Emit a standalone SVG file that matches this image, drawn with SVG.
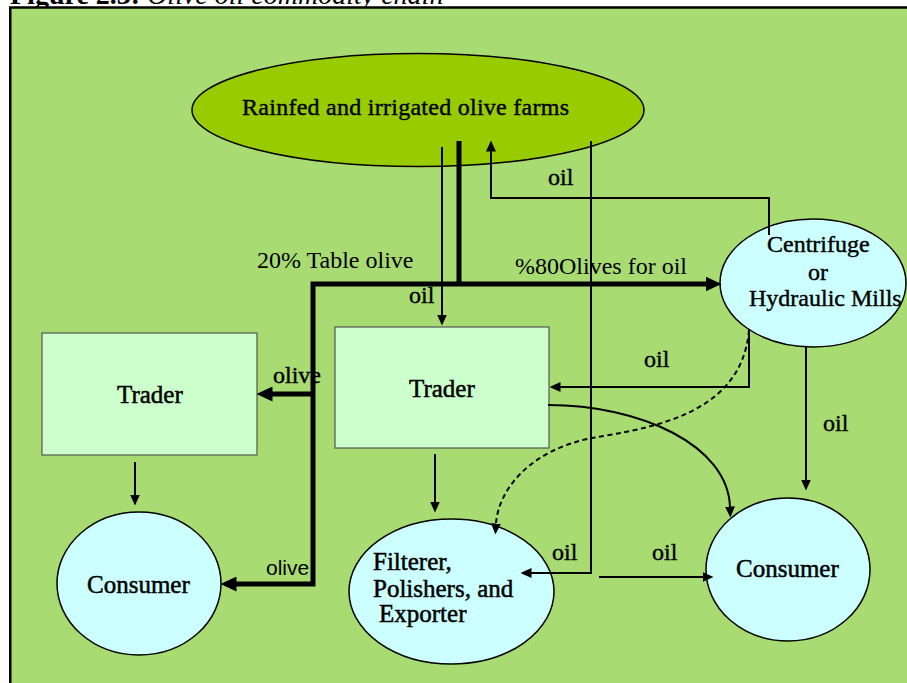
<svg xmlns="http://www.w3.org/2000/svg" width="907" height="683" viewBox="0 0 907 683">
<style>
.t{font-family:"Liberation Serif","Times New Roman",serif;font-size:24px;fill:#000}
.n{font-size:25px;stroke:#000;stroke-width:0.5}
.h{stroke:#000;stroke-width:0.4}
.s{font-family:"Liberation Sans",Arial,sans-serif;font-size:21px;fill:#000}
.thin{fill:none;stroke:#000;stroke-width:2}
.thick{fill:none;stroke:#000;stroke-width:5;stroke-linejoin:miter}
.dash{fill:none;stroke:#000;stroke-width:2;stroke-dasharray:5 3.5}
.ell{fill:#CCFFFF;stroke:#000;stroke-width:1.5}
.box{fill:#CCFFCC;stroke:#555;stroke-width:1.2}
</style>
<defs>
<marker id="a" markerUnits="userSpaceOnUse" markerWidth="11" markerHeight="10" viewBox="0 0 11 10" refX="0.5" refY="5" orient="auto"><path d="M0,0 L11,5 L0,10 z" fill="#000"/></marker>
<marker id="A" markerUnits="userSpaceOnUse" markerWidth="16" markerHeight="15" viewBox="0 0 16 15" refX="0.5" refY="7.5" orient="auto"><path d="M0,0 L16,7.5 L0,15 z" fill="#000"/></marker>
</defs>
<text x="10" y="4" font-family="Liberation Serif, Times New Roman, serif" font-size="28" fill="#000"><tspan font-weight="bold">Figure 2.3:</tspan><tspan font-style="italic"> Olive oil commodity chain</tspan></text>
<rect x="10.25" y="7.5" width="910" height="690" fill="#A8DC72" stroke="#000" stroke-width="2.5"/>

<g id="farms">
<ellipse cx="418" cy="110" rx="226" ry="56.5" fill="#99CC00" stroke="#000" stroke-width="1.5"/>
<text class="t h" x="242" y="115" textLength="327">Rainfed and irrigated olive farms</text>
</g>
<g id="mills">
<ellipse class="ell" cx="813" cy="283" rx="93" ry="64"/>
<text class="t h" x="767" y="252">Centrifuge</text>
<text class="t h" x="808" y="280">or</text>
<text class="t h" x="749" y="306">Hydraulic Mills</text>
</g>
<g id="trader-left">
<rect class="box" x="42" y="333" width="215" height="122"/>
<text class="t n" x="117" y="403">Trader</text>
</g>
<g id="trader-mid">
<rect class="box" x="335" y="327" width="214" height="121"/>
<text class="t n" x="409" y="397">Trader</text>
</g>
<g id="consumer-left">
<ellipse class="ell" cx="139" cy="583.5" rx="82" ry="71.5"/>
<text class="t n" x="87" y="593">Consumer</text>
</g>
<g id="filterer">
<ellipse class="ell" cx="451.5" cy="591.5" rx="102.5" ry="72.5"/>
<text class="t n" x="373" y="570">Filterer,</text>
<text class="t n" x="373" y="597">Polishers, and</text>
<text class="t n" x="379" y="622">Exporter</text>
</g>
<g id="consumer-right">
<ellipse class="ell" cx="788" cy="569.5" rx="82" ry="71.5"/>
<text class="t n" x="736" y="577">Consumer</text>
</g>

<g id="connectors">
<path class="thick" d="M459,141 V284"/>
<path class="thick" d="M705,284 H313 V584 H236" marker-end="url(#A)"/>
<path class="thick" d="M705,284 H706" marker-end="url(#A)"/>
<path class="thick" d="M313,394 H272" marker-end="url(#A)"/>
<path class="thin" d="M442,147 V315" marker-end="url(#a)"/>
<path class="thin" d="M769,235 V198 H491 V151" marker-end="url(#a)"/>
<path class="thin" d="M591,141 V573 H531" marker-end="url(#a)"/>
<path class="thin" d="M599,577 H703" marker-end="url(#a)"/>
<path class="thin" d="M749,329 V387 H560" marker-end="url(#a)"/>
<path class="thin" d="M806,347 V480" marker-end="url(#a)"/>
<path class="thin" d="M135,462 V495" marker-end="url(#a)"/>
<path class="thin" d="M435,454 V502" marker-end="url(#a)"/>
<path class="thin" d="M548,405 C640,405 728,445 730,507" marker-end="url(#a)"/>
<path class="dash" d="M749,330 C742,415 650,428 592,438 C530,450 498,490 496,524" marker-end="url(#a)"/>
</g>

<g id="labels">
<text class="t" x="257" y="268">20% Table olive</text>
<text class="t" x="515" y="274">%80Olives for oil</text>
<text class="t h" x="548" y="185">oil</text>
<text class="t h" x="409" y="303">oil</text>
<text class="t h" x="644" y="367">oil</text>
<text class="t h" x="823" y="431">oil</text>
<text class="t h" x="552" y="560">oil</text>
<text class="t h" x="652" y="560">oil</text>
<text class="t h" x="273" y="383" font-size="23">olive</text>
<text class="s" x="266" y="575">olive</text>
</g>
</svg>
